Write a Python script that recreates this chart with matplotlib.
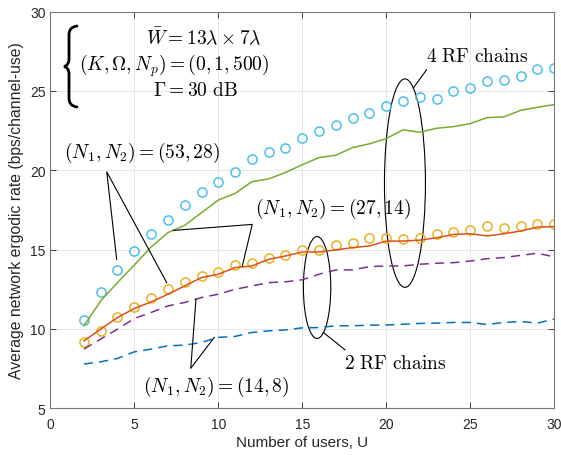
import matplotlib
matplotlib.use("Agg")
import matplotlib.pyplot as plt
from matplotlib.patches import Ellipse, PathPatch
from matplotlib.path import Path
import numpy as np

plt.rcParams['mathtext.fontset'] = 'cm'
plt.rcParams['font.family'] = ['Liberation Sans', 'DejaVu Sans']

users = list(range(2, 31))

rate_4rf_53_28 = [10.55, 12.33, 13.72, 14.91, 15.96, 16.89, 17.79, 18.6, 19.28, 19.88,
                  20.68, 21.16, 21.4, 22.06, 22.48, 22.86, 23.3, 23.6, 24.07, 24.35,
                  24.6, 24.47, 25.0, 25.2, 25.65, 25.67, 25.96, 26.36, 26.42]
rate_4rf_27_14 = [10.2, 11.77, 12.92, 14.03, 15.17, 16.07, 16.53, 17.33, 18.12, 18.54,
                  19.28, 19.46, 19.86, 20.35, 20.8, 20.95, 21.43, 21.67, 22.0, 22.55,
                  22.4, 22.65, 22.75, 22.94, 23.32, 23.36, 23.78, 23.97, 24.14]
rate_2rf_53_28 = [9.17, 9.88, 10.76, 11.41, 11.98, 12.5, 12.99, 13.34, 13.6, 14.01,
                  14.14, 14.45, 14.66, 14.98, 14.98, 15.27, 15.44, 15.71, 15.71, 15.67,
                  15.73, 16.0, 16.11, 16.23, 16.47, 16.38, 16.48, 16.61, 16.63]
rate_2rf_27_14 = [9.25, 9.99, 10.72, 11.29, 11.7, 12.19, 12.71, 13.24, 13.45, 13.87,
                  13.97, 14.39, 14.6, 14.85, 14.85, 14.98, 15.13, 15.23, 15.54, 15.54,
                  15.6, 15.75, 15.96, 16.0, 15.86, 16.0, 16.17, 16.42, 16.45]
rate_4rf_14_8 = [8.73, 9.36, 9.99, 10.66, 11.04, 11.45, 11.67, 11.98, 12.19, 12.5,
                 12.71, 12.92, 12.97, 13.1, 13.45, 13.72, 13.72, 13.93, 13.97, 13.97,
                 14.08, 14.14, 14.18, 14.28, 14.43, 14.5, 14.64, 14.77, 14.54]
rate_2rf_14_8 = [7.79, 7.93, 8.14, 8.56, 8.73, 8.94, 8.98, 9.15, 9.47, 9.53,
                 9.78, 9.88, 9.94, 10.07, 10.09, 10.2, 10.2, 10.24, 10.25, 10.3,
                 10.35, 10.37, 10.41, 10.41, 10.28, 10.41, 10.47, 10.37, 10.62]

xticks = [0, 5, 10, 15, 20, 25, 30]
yticks = [5, 10, 15, 20, 25, 30]

W, H = 561, 456
fig = plt.figure(figsize=(W / 100, H / 100), dpi=100)
ax = fig.add_axes([50.3 / W, 1 - 409.3 / H, (554.3 - 50.3) / W, (409.3 - 12.6) / H])

ax.plot(users, rate_4rf_53_28, 'o', ls='none', mfc='none', mec='#4DBEEE', ms=6.6, mew=1.1)
ax.plot(users, rate_4rf_27_14, '-', color='#77AC30', lw=1.1)
ax.plot(users, rate_2rf_53_28, 'o', ls='none', mfc='none', mec='#EDB120', ms=6.6, mew=1.1)
ax.plot(users, rate_2rf_27_14, '-', color='#D95319', lw=1.1)
ax.plot(users, rate_4rf_14_8, '--', color='#7E2F8E', lw=1.1, dashes=(6, 4))
ax.plot(users, rate_2rf_14_8, '--', color='#0072BD', lw=1.1, dashes=(6, 4))

ax.set_xlim(0, 30)
ax.set_ylim(5, 30)
ax.set_xticks(xticks)
ax.set_yticks(yticks)
ax.grid(True, color='#e6e6e6', lw=0.7)
ax.set_axisbelow(True)
ax.tick_params(direction='in', length=4, width=0.6, colors='#262626', labelsize=10,
               top=True, right=True)
ax.tick_params(axis='x', pad=6)
for s in ax.spines.values():
    s.set_color('#777777')
    s.set_linewidth(0.8)
ax.set_xlabel('Number of users, U', fontsize=11, color='#262626', labelpad=3)
ax.set_ylabel('Average network ergodic rate (bps/channel-use)', fontsize=11.3,
              color='#262626', labelpad=4)

fs = 14
# parameter box
ax.text(9.11, 28.43, r'$\bar{W} = 13\lambda \times 7\lambda$', fontsize=fs, ha='center', va='center')
ax.text(7.37, 26.65, r'$(K,\Omega,N_p) = (0,1,500)$', fontsize=fs, ha='center', va='center')
ax.text(8.66, 25.05, r'$\Gamma = 30\ \mathrm{dB}$', fontsize=fs, ha='center', va='center')

# curly brace drawn in pixel coordinates (figure space)
def P(x, y):
    return (x / W, 1 - y / H)

verts = [P(77, 27), P(71, 28), P(69, 31), P(69, 36),
         P(69, 60),
         P(69, 64), P(67, 67), P(64, 67.5),
         P(67, 68), P(69, 71), P(69, 75),
         P(69, 99),
         P(69, 104), P(71, 107), P(77, 108)]
codes = [Path.MOVETO, Path.CURVE4, Path.CURVE4, Path.CURVE4,
         Path.LINETO,
         Path.CURVE4, Path.CURVE4, Path.CURVE4,
         Path.CURVE4, Path.CURVE4, Path.CURVE4,
         Path.LINETO,
         Path.CURVE4, Path.CURVE4, Path.CURVE4]
fig.add_artist(PathPatch(Path(verts, codes), fill=False, ec='k', lw=2.0,
                         transform=fig.transFigure, capstyle='round'))

# (53,28)
ax.text(5.49, 21.18, r'$(N_1,N_2) = (53,28)$', fontsize=fs, ha='center', va='center')
ax.plot([3.95, 3.36, 6.93], [14.39, 19.9, 12.92], color='k', lw=0.8)
# (27,14)
ax.text(16.85, 17.64, r'$(N_1,N_2) = (27,14)$', fontsize=fs, ha='center', va='center')
ax.plot([7.32, 12.02, 11.43], [16.21, 16.59, 13.97], color='k', lw=0.8)
# (14,8)
ax.text(9.9, 6.38, r'$(N_1,N_2) = (14,8)$', fontsize=fs, ha='center', va='center')
ax.plot([8.67, 8.36, 9.76], [11.87, 7.52, 9.47], color='k', lw=0.8)

# 4 RF chains
ax.text(25.43, 27.18, r'$4\ \mathrm{RF\ chains}$', fontsize=fs, ha='center', va='center')
ax.plot([21.61, 22.4], [25.19, 26.34], color='k', lw=0.8)
ax.add_patch(Ellipse((21.11, 19.19), 2.44, 13.14, fill=False, ec='k', lw=0.8))
# 2 RF chains
ax.text(20.54, 7.83, r'$2\ \mathrm{RF\ chains}$', fontsize=fs, ha='center', va='center')
ax.plot([16.25, 17.54], [9.78, 8.69], color='k', lw=0.8)
ax.add_patch(Ellipse((15.88, 12.61), 1.63, 6.42, fill=False, ec='k', lw=0.8))

fig.savefig('out.png', dpi=100)
